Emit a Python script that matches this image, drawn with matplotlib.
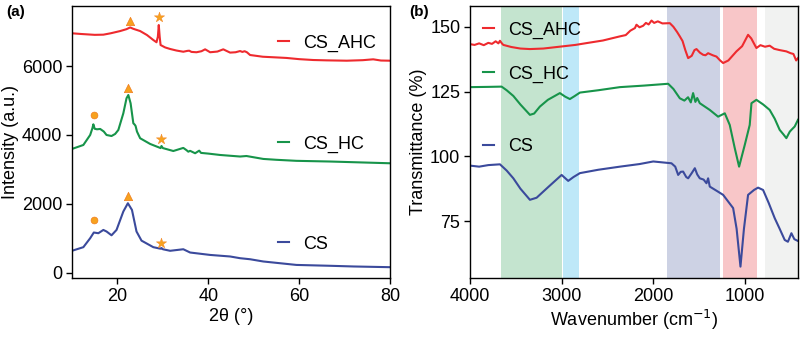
import matplotlib
matplotlib.use("Agg")
import matplotlib.pyplot as plt
from matplotlib.legend import Legend

plt.rcParams['font.family'] = ['Liberation Sans', 'DejaVu Sans']
plt.rcParams['font.size'] = 13

# --- XRD (a) ---
tt_ahc = [10, 12, 15, 16.9, 18.5, 20.6, 22.0, 22.8, 23.5, 25.0, 26.5, 27.9, 28.6, 28.9, 29.1, 29.3,
          29.5, 30.5, 31.6, 33.0, 34.5, 35.4, 35.8, 36.3, 37.4, 38.5, 39.3, 39.9, 40.4, 42.0, 43.3,
          44.0, 44.8, 46.0, 47.0, 47.5, 48.0, 48.5, 49.2, 52.0, 55.0, 57.2, 60.0, 63.1, 66.0, 70.5,
          74.0, 76.3, 78.0, 80]
int_ahc = [6950, 6930, 6905, 6910, 6950, 7015, 7070, 7120, 7080, 7015, 6900, 6755, 6690, 6850, 7190, 6850,
           6610, 6540, 6495, 6450, 6415, 6440, 6445, 6410, 6400, 6430, 6485, 6440, 6400, 6420, 6485,
           6440, 6390, 6400, 6435, 6410, 6430, 6400, 6320, 6270, 6250, 6235, 6200, 6175, 6165, 6155,
           6170, 6195, 6160, 6155]

tt_hc = [10, 12.5, 14.0, 14.5, 14.7, 15.0, 15.5, 16.2, 17.0, 17.6, 18.7, 19.5, 20.2, 21.3, 22.0, 22.4,
         22.9, 23.5, 23.8, 24.0, 24.3, 25.0, 27.2, 29.5, 29.7, 30.0, 32.3, 34.5, 35.2, 35.6, 36.0,
         37.1, 38.0, 38.4, 40.0, 42.6, 47.0, 48.4, 52.1, 55.0, 59.4, 66.8, 72.0, 79.8]
int_hc = [3595, 3710, 4000, 4200, 4310, 4180, 4165, 4175, 4100, 4000, 3970, 4030, 4145, 4630, 5065, 5160,
          4920, 4340, 4300, 4260, 4100, 3905, 3740, 3620, 3680, 3620, 3535, 3625, 3560, 3515, 3540,
          3470, 3545, 3480, 3460, 3420, 3375, 3390, 3305, 3280, 3250, 3230, 3210, 3180]

tt_cs = [10, 12.5, 14.0, 14.8, 15.8, 16.9, 17.6, 18.7, 19.8, 21.3, 22.3, 23.2, 24.2, 25.3, 27.9, 29.5,
         29.7, 30.0, 31.6, 34.5, 36.0, 40.4, 44.8, 47.0, 49.2, 52.1, 59.4, 66.8, 72.0, 79.8]
int_cs = [640, 745, 1005, 1170, 1150, 1245, 1200, 1090, 1245, 1780, 2020, 1825, 1200, 935, 745, 700,
          720, 685, 640, 685, 590, 520, 475, 425, 395, 330, 230, 205, 185, 165]

# phase symbols: circle, triangle, star
circ_tt = [14.8, 14.8]
circ_int = [4580, 1535]
tri_tt = [22.8, 22.4, 22.3]
tri_int = [7305, 5370, 2240]
star_tt = [29.1, 29.7, 29.7]
star_int = [7410, 3875, 880]

# --- FTIR (b) ---
wn_ahc = [4000, 3950, 3900, 3850, 3800, 3760, 3720, 3690, 3673, 3650, 3636, 3550, 3450, 3346, 3200,
          3000, 2850, 2728, 2550, 2364, 2300, 2250, 2200, 2183, 2150, 2110, 2080, 2050, 2019, 1990,
          1950, 1900, 1819, 1780, 1740, 1710, 1680, 1650, 1619, 1580, 1550, 1528, 1490, 1456, 1430,
          1401, 1350, 1310, 1270, 1237, 1180, 1092, 1030, 965, 930, 900, 874, 830, 780, 729, 680,
          620, 547, 500, 470, 440, 420]
tr_ahc = [143.3, 143.0, 143.6, 142.9, 143.8, 143.4, 144.4, 143.6, 144.6, 143.5, 143.0, 142.2, 141.6, 141.4, 141.6,
          142.4, 143.0, 143.7, 144.7, 146.3, 146.8, 148.5, 149.5, 150.8, 149.8, 150.4, 151.5, 150.9, 152.4, 151.5,
          152.1, 151.3, 151.4, 150.0, 148.0, 146.3, 144.5, 141.0, 137.9, 138.8, 141.0, 141.4, 140.0, 139.2, 139.0,
          139.8, 139.0, 138.5, 137.0, 136.0, 137.0, 140.5, 142.5, 146.9, 145.5, 143.5, 141.8, 142.9, 142.3, 142.7, 141.5,
          141.0, 140.5, 139.8, 139.5, 137.0, 137.9]

wn_hc = [4000, 3800, 3655, 3600, 3527, 3450, 3346, 3300, 3237, 3150, 3019, 2960, 2910, 2860, 2800, 2600,
         2364, 2100, 1837, 1780, 1710, 1660, 1620, 1590, 1565, 1540, 1520, 1492, 1450, 1383, 1292,
         1219, 1165, 1110, 1063, 1001, 947, 928, 874, 800, 729, 674, 620, 580, 547, 510, 492, 456,
         420]
tr_hc = [126.7, 126.8, 126.9, 125.5, 123.3, 120.0, 116.0, 116.5, 119.2, 121.8, 124.4, 123.0, 122.1, 123.2, 124.6, 125.5,
         126.7, 127.3, 128.0, 126.0, 122.4, 121.5, 122.8, 120.8, 124.4, 121.0, 122.5, 120.5, 119.5, 117.9, 115.3,
         116.6, 112.1, 103.1, 96.0, 104.4, 112.1, 120.5, 121.8, 120.0, 117.9, 114.5, 110.2, 108.5, 107.0, 109.5, 110.2, 111.5,
         114.1]

wn_cs = [4000, 3900, 3800, 3673, 3600, 3527, 3450, 3346, 3273, 3150, 3000, 2928, 2870, 2800, 2600, 2364,
         2150, 2000, 1801, 1760, 1728, 1700, 1674, 1640, 1619, 1580, 1546, 1520, 1492, 1450, 1419,
         1401, 1383, 1300, 1237, 1128, 1090, 1048, 1010, 965, 900, 856, 801, 740, 674, 620, 565,
         530, 492, 460, 420]
tr_cs = [96.4, 96.0, 96.6, 96.9, 94.5, 91.5, 87.5, 83.2, 84.0, 88.0, 92.8, 90.5, 92.0, 93.5, 94.8, 96.0,
         97.0, 98.0, 97.3, 96.0, 92.8, 94.0, 94.1, 92.0, 91.5, 93.5, 95.4, 93.0, 91.5, 91.0, 89.6,
         91.5, 88.3, 86.5, 85.1, 80.0, 72.0, 57.4, 72.0, 85.1, 87.0, 87.9, 87.0, 82.0, 76.1, 72.0, 67.7,
         67.0, 70.3, 68.0, 67.3]

# shaded absorption regions (from, to) in cm-1
bands = [(3660, 3000), (2985, 2805), (1855, 1275), (1240, 865), (780, 400)]
band_colors = ['#c4e4cf', '#bee8f8', '#cdd2e4', '#f8c6c8', '#f1f2f1']

RED = '#ee2a2e'
GREEN = '#17944a'
BLUE = '#3b4a9c'
ORANGE = '#f7a21e'

fig = plt.figure(figsize=(8, 3.37), dpi=100)
ax1 = fig.add_axes([0.09, 0.175, 0.3975, 0.807])
ax2 = fig.add_axes([0.5875, 0.175, 0.41, 0.807])


def tag(ax, handle, label, x, y):
    # one short legend entry next to its curve
    lg = Legend(ax, [handle], [label], loc='center left', bbox_to_anchor=(x, y), frameon=False,
                handlelength=0.6, handletextpad=0.8, borderpad=0, borderaxespad=0, fontsize=13)
    ax.add_artist(lg)


# (a) XRD
l_ahc, = ax1.plot(tt_ahc, int_ahc, color=RED, lw=1.5)
l_hc, = ax1.plot(tt_hc, int_hc, color=GREEN, lw=1.5)
l_cs, = ax1.plot(tt_cs, int_cs, color=BLUE, lw=1.5)
ax1.scatter(circ_tt, circ_int, marker='o', s=24, color=ORANGE, edgecolor='#f07c1e', lw=0.5, zorder=5)
ax1.scatter(tri_tt, tri_int, marker='^', s=36, color=ORANGE, edgecolor='#f07c1e', lw=0.5, zorder=5)
ax1.scatter(star_tt, star_int, marker='*', s=60, color=ORANGE, edgecolor='#f07c1e', lw=0.3, zorder=5)
ax1.set_xlim(10, 80)
ax1.set_ylim(-150, 7740)
ax1.set_xticks([20, 40, 60, 80])
ax1.set_yticks([0, 2000, 4000, 6000])
ax1.set_xlabel('2θ (°)', labelpad=2)
ax1.set_ylabel('Intensity (a.u.)', labelpad=2)

tag(ax1, l_ahc, 'CS_AHC', 0.648, 0.864)
tag(ax1, l_hc, 'CS_HC', 0.648, 0.493)
tag(ax1, l_cs, 'CS', 0.648, 0.125)

# (b) FTIR
for (a, b), c in zip(bands, band_colors):
    ax2.axvspan(a, b, color=c, lw=0, zorder=0)
f_ahc, = ax2.plot(wn_ahc, tr_ahc, color=RED, lw=1.5)
f_hc, = ax2.plot(wn_hc, tr_hc, color=GREEN, lw=1.5)
f_cs, = ax2.plot(wn_cs, tr_cs, color=BLUE, lw=1.5)
ax2.set_xlim(4000, 420)
ax2.set_ylim(53, 158)
ax2.set_xticks([4000, 3000, 2000, 1000])
ax2.set_yticks([75, 100, 125, 150])
ax2.set_xlabel('Wavenumber (cm$^{-1}$)', labelpad=2)
ax2.set_ylabel('Transmittance (%)', labelpad=2)

tag(ax2, f_ahc, 'CS_AHC', 0.04, 0.912)
tag(ax2, f_hc, 'CS_HC', 0.04, 0.75)
tag(ax2, f_cs, 'CS', 0.04, 0.483)

for ax in (ax1, ax2):
    ax.tick_params(direction='out', length=4, width=1, labelsize=13, pad=3)
    for s in ax.spines.values():
        s.set_linewidth(1)

fig.text(0.008, 0.965, '(a)', fontsize=11, fontweight='bold', va='center')
fig.text(0.512, 0.965, '(b)', fontsize=11, fontweight='bold', va='center')

fig.savefig('out.png', dpi=100)
